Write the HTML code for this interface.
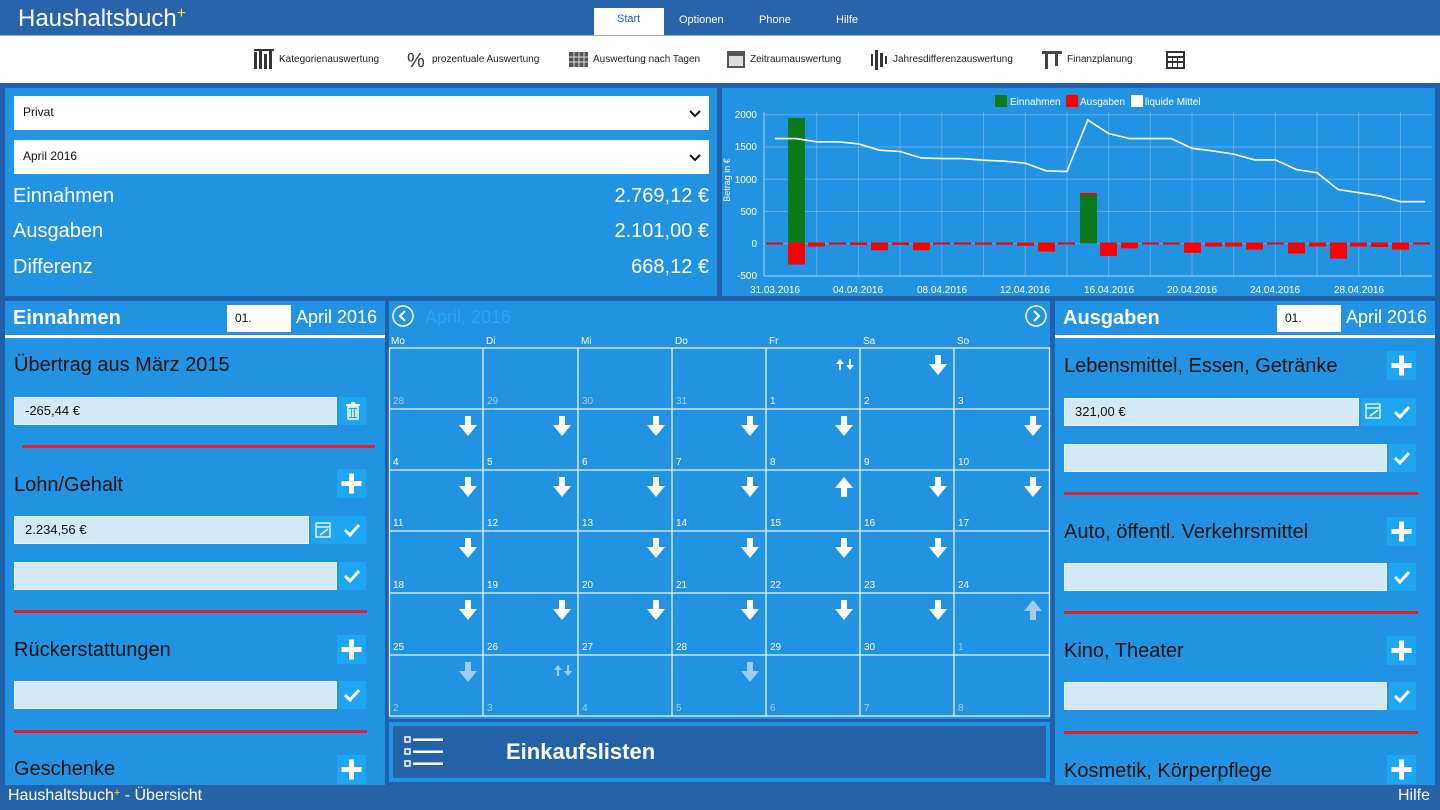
<!DOCTYPE html>
<html><head><meta charset="utf-8"><style>
*{margin:0;padding:0;box-sizing:border-box}
body{width:1440px;height:810px;overflow:hidden;background:#1f60aa;font-family:"Segoe UI","Liberation Sans",sans-serif;position:relative}
.a{position:absolute}
.hdr{left:0;top:0;width:1440px;height:35px;background:#2863ab}
.tb{left:0;top:35px;width:1440px;height:48px;background:#fff;border-top:1px solid #9ab}
.pn{background:#2293e3}
.t{position:absolute;white-space:nowrap}
.inp{position:absolute;background:#d3e9f8;border:1px solid #e6f3fc;font-size:13px;color:#111;padding-left:10px;line-height:25px}
.btn{position:absolute;background:#1fa6f2}
.red{position:absolute;height:3px;background:#e3202e}
.cat{position:absolute;font-size:20px;color:#111;white-space:nowrap;margin-top:3px}
.tbt{position:absolute;top:54px;font-size:10px;color:#222}
</style></head><body>
<div class="a hdr"></div>
<div class="t" style="left:18px;top:5px;font-size:24px;color:#fff">Haushaltsbuch<span style="color:#f5e03a;font-size:16px;vertical-align:top">+</span></div>
<div class="a" style="left:594px;top:8px;width:70px;height:28px;background:#fff"></div>
<div class="t" style="left:617px;top:13px;font-size:11px;color:#2863ab">Start</div>
<div class="t" style="left:679px;top:14px;font-size:11px;color:#fff">Optionen</div>
<div class="t" style="left:759px;top:14px;font-size:11px;color:#fff">Phone</div>
<div class="t" style="left:836px;top:14px;font-size:11px;color:#fff">Hilfe</div>
<div class="a tb"></div>
<svg class="a" style="left:0;top:35px" width="1440" height="48">
<g fill="#333"><rect x="254" y="17" width="3" height="17"/><rect x="259" y="14" width="3" height="20"/><rect x="264" y="19" width="3" height="15"/><rect x="269" y="15" width="3" height="19"/><rect x="254" y="14" width="20" height="2"/></g>
<text x="407" y="32" font-size="20" fill="#333" font-family="Liberation Sans">%</text>
<rect x="569" y="17" width="19" height="15" fill="#555"/><g stroke="#ddd" stroke-width="1"><line x1="569" y1="22" x2="588" y2="22"/><line x1="569" y1="27" x2="588" y2="27"/><line x1="574" y1="17" x2="574" y2="32"/><line x1="579" y1="17" x2="579" y2="32"/><line x1="584" y1="17" x2="584" y2="32"/></g>
<rect x="727" y="16" width="18" height="17" fill="#555"/><rect x="729" y="21" width="14" height="10" fill="#ddd"/>
<g fill="#333"><rect x="871" y="19" width="2" height="12"/><rect x="875" y="15" width="3" height="20"/><rect x="880" y="18" width="3" height="14"/><rect x="885" y="21" width="2" height="8"/></g>
<g fill="#444"><rect x="1042" y="16" width="20" height="3"/><rect x="1045" y="19" width="3" height="15"/><rect x="1055" y="19" width="3" height="12"/></g>
<rect x="1166" y="16" width="19" height="18" fill="#333"/><g fill="#fff"><rect x="1168" y="18" width="15" height="3"/><rect x="1168" y="23" width="4" height="3"/><rect x="1173" y="23" width="4" height="3"/><rect x="1178" y="23" width="5" height="3"/><rect x="1168" y="28" width="4" height="4"/><rect x="1173" y="28" width="4" height="4"/><rect x="1178" y="28" width="5" height="4"/></g>
</svg>
<div class="tbt" style="left:279px">Kategorienauswertung</div>
<div class="tbt" style="left:432px">prozentuale Auswertung</div>
<div class="tbt" style="left:593px">Auswertung nach Tagen</div>
<div class="tbt" style="left:750px">Zeitraumauswertung</div>
<div class="tbt" style="left:893px">Jahresdifferenzauswertung</div>
<div class="tbt" style="left:1067px">Finanzplanung</div>

<div class="a pn" style="left:5px;top:88px;width:712px;height:208px"></div>
<div class="a" style="left:14px;top:96px;width:695px;height:34px;background:#fff"></div>
<div class="t" style="left:23px;top:105px;font-size:12px;color:#111">Privat</div>
<div class="a" style="left:14px;top:140px;width:695px;height:34px;background:#fff"></div>
<div class="t" style="left:23px;top:149px;font-size:12px;color:#111">April 2016</div>
<svg class="a" style="left:688px;top:108px" width="14" height="60"><path d="M2 3 L7 8 L12 3" stroke="#111" stroke-width="2" fill="none"/><path d="M2 47 L7 52 L12 47" stroke="#111" stroke-width="2" fill="none"/></svg>
<div class="t" style="left:13px;top:185px;font-size:20px;color:#fff">Einnahmen</div>
<div class="t" style="left:13px;top:220px;font-size:20px;color:#fff">Ausgaben</div>
<div class="t" style="left:13px;top:256px;font-size:20px;color:#fff">Differenz</div>
<div class="t" style="right:731px;top:185px;font-size:20px;color:#fff">2.769,12 €</div>
<div class="t" style="right:731px;top:220px;font-size:20px;color:#fff">2.101,00 €</div>
<div class="t" style="right:731px;top:256px;font-size:20px;color:#fff">668,12 €</div>

<div class="a pn" style="left:722px;top:88px;width:713px;height:208px"></div>
<svg class="a" style="left:722px;top:88px" width="713" height="208" font-family="Segoe UI, Liberation Sans, sans-serif">
<g transform="translate(-722,-88)">
<g stroke="#ffffff" stroke-opacity="0.25" stroke-width="1">
<line x1="764" y1="114.8" x2="1432" y2="114.8"/><line x1="764" y1="147" x2="1432" y2="147"/><line x1="764" y1="179.2" x2="1432" y2="179.2"/><line x1="764" y1="211.4" x2="1432" y2="211.4"/><line x1="764" y1="243.6" x2="1432" y2="243.6"/>
<line x1="816.7" y1="112" x2="816.7" y2="277"/><line x1="858.4" y1="112" x2="858.4" y2="277"/><line x1="900.1" y1="112" x2="900.1" y2="277"/><line x1="941.8" y1="112" x2="941.8" y2="277"/><line x1="983.5" y1="112" x2="983.5" y2="277"/><line x1="1025.2" y1="112" x2="1025.2" y2="277"/><line x1="1066.9" y1="112" x2="1066.9" y2="277"/><line x1="1108.6" y1="112" x2="1108.6" y2="277"/><line x1="1150.3" y1="112" x2="1150.3" y2="277"/><line x1="1192" y1="112" x2="1192" y2="277"/><line x1="1233.7" y1="112" x2="1233.7" y2="277"/><line x1="1275.4" y1="112" x2="1275.4" y2="277"/><line x1="1317.1" y1="112" x2="1317.1" y2="277"/><line x1="1358.8" y1="112" x2="1358.8" y2="277"/><line x1="1400.5" y1="112" x2="1400.5" y2="277"/>
</g>
<line x1="764" y1="112" x2="764" y2="276" stroke="#fff" stroke-opacity="0.6"/>
<line x1="764" y1="276" x2="1432" y2="276" stroke="#fff" stroke-opacity="0.6"/>
<g font-size="10" fill="#fff" text-anchor="end">
<text x="757" y="118">2000</text><text x="757" y="150">1500</text><text x="757" y="183">1000</text><text x="757" y="215">500</text><text x="757" y="247">0</text><text x="757" y="279">-500</text></g>
<text transform="translate(730,180) rotate(-90)" font-size="9" fill="#fff" text-anchor="middle">Betrag in €</text>
<g font-size="10" fill="#fff" text-anchor="middle">
<text x="775" y="293">31.03.2016</text><text x="858" y="293">04.04.2016</text><text x="942" y="293">08.04.2016</text><text x="1025" y="293">12.04.2016</text><text x="1109" y="293">16.04.2016</text><text x="1192" y="293">20.04.2016</text><text x="1275" y="293">24.04.2016</text><text x="1359" y="293">28.04.2016</text></g>
<rect x="995" y="95" width="12" height="12" fill="#0a7a1a"/><text x="1010" y="105" font-size="10" fill="#fff">Einnahmen</text>
<rect x="1066" y="95" width="12" height="12" fill="#f00"/><text x="1080" y="105" font-size="10" fill="#fff">Ausgaben</text>
<rect x="1131" y="95" width="12" height="12" fill="#fff"/><text x="1145" y="105" font-size="10" fill="#fff">liquide Mittel</text>
<rect x="788" y="118" width="17" height="125.6" fill="#0a7a1a"/>
<rect x="1080" y="193.4" width="17" height="50.2" fill="#0a7a1a"/><rect x="1080" y="193" width="17" height="2" fill="#f00"/>
<g fill="#f00">
<rect x="766" y="242.5" width="17" height="2"/>
<rect x="788" y="242.5" width="17" height="22"/>
<rect x="808" y="242.5" width="17" height="4"/>
<rect x="829" y="242.5" width="17" height="2"/>
<rect x="850" y="242.5" width="17" height="2.5"/>
<rect x="871" y="242.5" width="17" height="7.7"/>
<rect x="892" y="242.5" width="17" height="2.5"/>
<rect x="913" y="242.5" width="17" height="7.7"/>
<rect x="933" y="242.5" width="17" height="2"/>
<rect x="954" y="242.5" width="17" height="2"/>
<rect x="975" y="242.5" width="17" height="2.2"/>
<rect x="996" y="242.5" width="17" height="2.2"/>
<rect x="1017" y="242.5" width="17" height="3.3"/>
<rect x="1038" y="242.5" width="17" height="9"/>
<rect x="1058" y="242.5" width="17" height="2"/>
<rect x="1100" y="242.5" width="17" height="13.5"/>
<rect x="1121" y="242.5" width="17" height="5.8"/>
<rect x="1142" y="242.5" width="17" height="2"/>
<rect x="1163" y="242.5" width="17" height="2"/>
<rect x="1184" y="242.5" width="17" height="10.3"/>
<rect x="1205" y="242.5" width="17" height="4"/>
<rect x="1225" y="242.5" width="17" height="4"/>
<rect x="1246" y="242.5" width="17" height="7.1"/>
<rect x="1267" y="242.5" width="17" height="2"/>
<rect x="1288" y="242.5" width="17" height="11"/>
<rect x="1309" y="242.5" width="17" height="4"/>
<rect x="1330" y="242.5" width="17" height="16.1"/>
<rect x="1350" y="242.5" width="17" height="4"/>
<rect x="1371" y="242.5" width="17" height="4.5"/>
<rect x="1392" y="242.5" width="17" height="7.1"/>
<rect x="1413" y="242.5" width="17" height="2"/>
</g>
<polyline fill="none" stroke="#fff" stroke-width="1.6" points="775,138.6 795.9,138.6 816.7,141.8 837.6,141.8 858.4,143.8 879.3,150.2 900.1,151.5 921,157.9 941.8,158.6 962.7,158.6 983.5,160.2 1004.4,161.2 1025.2,163.1 1046.1,170.8 1066.9,171.5 1087.8,120 1108.6,133.5 1129.5,138.6 1150.3,138.6 1171.2,138.6 1192,148.3 1212.9,150.9 1233.7,154.1 1254.6,159.9 1275.4,159.9 1296.3,169.5 1317.1,172.8 1338,189.5 1358.8,192.7 1379.7,195.9 1400.5,201.7 1425,201.7"/>
</g></svg>

<div class="a pn" style="left:5px;top:301px;width:380px;height:484px"></div>
<div class="t" style="left:13px;top:307px;font-size:20px;color:#fff;font-weight:bold">Einnahmen</div>
<div class="a" style="left:227px;top:305px;width:64px;height:27px;background:#fff"></div>
<div class="t" style="left:235px;top:311px;font-size:12px;color:#111">01.</div>
<div class="t" style="left:296px;top:307px;font-size:18px;color:#fff">April 2016</div>
<div class="a" style="left:5px;top:335px;width:380px;height:3px;background:#fff"></div>
<div class="cat" style="left:14px;top:351px">Übertrag aus März 2015</div>
<div class="inp" style="left:14px;top:397px;width:323px;height:28px">-265,44 €</div>
<div class="btn" style="left:339px;top:397px;width:27px;height:28px"></div>
<svg class="a" style="left:346px;top:402px" width="14" height="18"><rect x="0" y="2" width="14" height="2" fill="#fff"/><rect x="5" y="0" width="4" height="2" fill="#fff"/><path d="M2 5 H12 V17 H2 Z M4 7 V15 M7 7 V15 M10 7 V15" stroke="#fff" stroke-width="1.5" fill="none"/></svg>
<div class="red" style="left:22px;top:445px;width:353px"></div>
<div class="cat" style="left:14px;top:471px">Lohn/Gehalt</div>
<div class="btn" style="left:337px;top:469px;width:29px;height:29px"></div>
<div class="inp" style="left:14px;top:516px;width:295px;height:28px">2.234,56 €</div>
<div class="btn" style="left:311px;top:516px;width:55px;height:28px"></div>
<div class="inp" style="left:14px;top:562px;width:323px;height:28px"></div>
<div class="btn" style="left:339px;top:562px;width:27px;height:28px"></div>
<div class="red" style="left:14px;top:610px;width:353px"></div>
<div class="cat" style="left:14px;top:636px">Rückerstattungen</div>
<div class="btn" style="left:337px;top:635px;width:29px;height:29px"></div>
<div class="inp" style="left:14px;top:681px;width:323px;height:28px"></div>
<div class="btn" style="left:339px;top:681px;width:27px;height:28px"></div>
<div class="red" style="left:14px;top:730px;width:353px"></div>
<div class="cat" style="left:14px;top:755px">Geschenke</div>
<div class="btn" style="left:337px;top:755px;width:29px;height:29px"></div>

<div class="a pn" style="left:1055px;top:301px;width:380px;height:484px"></div>
<div class="t" style="left:1063px;top:307px;font-size:20px;color:#fff;font-weight:bold">Ausgaben</div>
<div class="a" style="left:1277px;top:305px;width:64px;height:27px;background:#fff"></div>
<div class="t" style="left:1285px;top:311px;font-size:12px;color:#111">01.</div>
<div class="t" style="left:1346px;top:307px;font-size:18px;color:#fff">April 2016</div>
<div class="a" style="left:1055px;top:335px;width:380px;height:3px;background:#fff"></div>
<div class="cat" style="left:1064px;top:352px">Lebensmittel, Essen, Getränke</div>
<div class="btn" style="left:1387px;top:351px;width:29px;height:29px"></div>
<div class="inp" style="left:1064px;top:398px;width:295px;height:28px">321,00 €</div>
<div class="btn" style="left:1361px;top:398px;width:55px;height:28px"></div>
<div class="inp" style="left:1064px;top:444px;width:323px;height:28px"></div>
<div class="btn" style="left:1389px;top:444px;width:27px;height:28px"></div>
<div class="red" style="left:1064px;top:492px;width:354px"></div>
<div class="cat" style="left:1064px;top:518px">Auto, öffentl. Verkehrsmittel</div>
<div class="btn" style="left:1387px;top:517px;width:29px;height:29px"></div>
<div class="inp" style="left:1064px;top:563px;width:323px;height:28px"></div>
<div class="btn" style="left:1389px;top:563px;width:27px;height:28px"></div>
<div class="red" style="left:1064px;top:611px;width:354px"></div>
<div class="cat" style="left:1064px;top:637px">Kino, Theater</div>
<div class="btn" style="left:1387px;top:636px;width:29px;height:29px"></div>
<div class="inp" style="left:1064px;top:682px;width:323px;height:28px"></div>
<div class="btn" style="left:1389px;top:682px;width:27px;height:28px"></div>
<div class="red" style="left:1064px;top:731px;width:354px"></div>
<div class="cat" style="left:1064px;top:757px">Kosmetik, Körperpflege</div>
<div class="btn" style="left:1387px;top:755px;width:29px;height:29px"></div>

<svg class="a" style="left:0;top:0" width="1440" height="810">
<defs>
<g id="pl"><rect x="-2.5" y="-10" width="5" height="20" fill="#fff"/><rect x="-10" y="-2.5" width="20" height="5" fill="#fff"/></g>
<path id="ck" d="M-7 0 L-2 5 L7 -5" stroke="#fff" stroke-width="3" fill="none"/>
<g id="ed"><rect x="-7" y="-7" width="14" height="14" fill="none" stroke="#fff" stroke-width="1.3"/><line x1="-7" y1="-3" x2="7" y2="-3" stroke="#fff" stroke-width="1.3"/><line x1="-3" y1="5" x2="5" y2="-1" stroke="#fff" stroke-width="1.5"/></g>
</defs>
<use href="#pl" x="351.5" y="483.5"/><use href="#pl" x="351.5" y="649.5"/><use href="#pl" x="351.5" y="769.5"/>
<use href="#pl" x="1401.5" y="365.5"/><use href="#pl" x="1401.5" y="531.5"/><use href="#pl" x="1401.5" y="650.5"/><use href="#pl" x="1401.5" y="769.5"/>
<use href="#ck" x="352" y="530"/><use href="#ck" x="352" y="576"/><use href="#ck" x="352" y="695"/>
<use href="#ck" x="1402" y="412"/><use href="#ck" x="1402" y="458"/><use href="#ck" x="1402" y="577"/><use href="#ck" x="1402" y="696"/>
<use href="#ed" x="323" y="530"/><use href="#ed" x="1373" y="411"/>
</svg>

<div class="a pn" style="left:389px;top:301px;width:661px;height:418px"></div>
<svg class="a" style="left:0;top:0" width="1440" height="810" font-family="Segoe UI, Liberation Sans, sans-serif">
<defs>
<g id="dn2"><rect x="-3" y="-10" width="6" height="12" fill="#fff"/><path d="M-9 -1 L9 -1 L0 10 Z" fill="#fff"/></g>
<g id="up2"><rect x="-3" y="-2" width="6" height="12" fill="#fff"/><path d="M-9 1 L9 1 L0 -10 Z" fill="#fff"/></g>
<g id="ud"><rect x="-6" y="-2" width="2" height="7" fill="#fff"/><path d="M-9 -1 L-1 -1 L-5 -6 Z" fill="#fff"/><rect x="4" y="-6" width="2" height="7" fill="#fff"/><path d="M1 0 L9 0 L5 5 Z" fill="#fff"/></g>
</defs>
<circle cx="403" cy="316" r="10" fill="none" stroke="#fff" stroke-width="1.5"/><path d="M405 311 L400 316 L405 321" stroke="#fff" stroke-width="2" fill="none"/>
<circle cx="1036" cy="316" r="10" fill="none" stroke="#fff" stroke-width="1.5"/><path d="M1034 311 L1039 316 L1034 321" stroke="#fff" stroke-width="2" fill="none"/>
<text x="425" y="323" font-size="18" fill="#2aa6f5">April, 2016</text>
<g font-size="10" fill="#fff"><text x="391" y="344">Mo</text><text x="486" y="344">Di</text><text x="581" y="344">Mi</text><text x="675" y="344">Do</text><text x="769" y="344">Fr</text><text x="863" y="344">Sa</text><text x="957" y="344">So</text></g>
<g stroke="#e8f4fd" stroke-width="1.3" fill="none">
<rect x="389.5" y="348" width="660" height="368"/>
<line x1="483" y1="348" x2="483" y2="716"/><line x1="578" y1="348" x2="578" y2="716"/><line x1="672" y1="348" x2="672" y2="716"/><line x1="766" y1="348" x2="766" y2="716"/><line x1="860" y1="348" x2="860" y2="716"/><line x1="954" y1="348" x2="954" y2="716"/>
<line x1="389" y1="409" x2="1050" y2="409"/><line x1="389" y1="470" x2="1050" y2="470"/><line x1="389" y1="531" x2="1050" y2="531"/><line x1="389" y1="593" x2="1050" y2="593"/><line x1="389" y1="655" x2="1050" y2="655"/>
</g>
<g font-size="10" fill="#fff">
<g fill-opacity="0.55"><text x="393" y="404">28</text><text x="487" y="404">29</text><text x="582" y="404">30</text><text x="676" y="404">31</text></g>
<text x="770" y="404">1</text><text x="864" y="404">2</text><text x="958" y="404">3</text>
<text x="393" y="465">4</text><text x="487" y="465">5</text><text x="582" y="465">6</text><text x="676" y="465">7</text><text x="770" y="465">8</text><text x="864" y="465">9</text><text x="958" y="465">10</text>
<text x="393" y="526">11</text><text x="487" y="526">12</text><text x="582" y="526">13</text><text x="676" y="526">14</text><text x="770" y="526">15</text><text x="864" y="526">16</text><text x="958" y="526">17</text>
<text x="393" y="588">18</text><text x="487" y="588">19</text><text x="582" y="588">20</text><text x="676" y="588">21</text><text x="770" y="588">22</text><text x="864" y="588">23</text><text x="958" y="588">24</text>
<text x="393" y="650">25</text><text x="487" y="650">26</text><text x="582" y="650">27</text><text x="676" y="650">28</text><text x="770" y="650">29</text><text x="864" y="650">30</text><text x="958" y="650" fill-opacity="0.55">1</text>
<g fill-opacity="0.55"><text x="393" y="711">2</text><text x="487" y="711">3</text><text x="582" y="711">4</text><text x="676" y="711">5</text><text x="770" y="711">6</text><text x="864" y="711">7</text><text x="958" y="711">8</text></g>
</g>
<use href="#ud" x="845" y="365"/><use href="#dn2" x="938" y="365"/>
<use href="#dn2" x="468" y="426"/><use href="#dn2" x="562" y="426"/><use href="#dn2" x="656" y="426"/><use href="#dn2" x="750" y="426"/><use href="#dn2" x="844" y="426"/><use href="#dn2" x="1033" y="426"/>
<use href="#dn2" x="468" y="487"/><use href="#dn2" x="562" y="487"/><use href="#dn2" x="656" y="487"/><use href="#dn2" x="750" y="487"/><use href="#up2" x="844" y="487"/><use href="#dn2" x="938" y="487"/><use href="#dn2" x="1033" y="487"/>
<use href="#dn2" x="468" y="548"/><use href="#dn2" x="656" y="548"/><use href="#dn2" x="750" y="548"/><use href="#dn2" x="844" y="548"/><use href="#dn2" x="938" y="548"/>
<use href="#dn2" x="468" y="610"/><use href="#dn2" x="562" y="610"/><use href="#dn2" x="656" y="610"/><use href="#dn2" x="750" y="610"/><use href="#dn2" x="844" y="610"/><use href="#dn2" x="938" y="610"/>
<g opacity="0.55"><use href="#up2" x="1033" y="610"/><use href="#dn2" x="468" y="672"/><use href="#ud" x="563" y="671"/><use href="#dn2" x="750" y="672"/></g>
</svg>

<div class="a" style="left:389px;top:722px;width:661px;height:60px;background:#2293e3"></div>
<div class="a" style="left:393px;top:726px;width:653px;height:52px;background:#2462a8"></div>
<svg class="a" style="left:403px;top:735px" width="45" height="36"><g fill="none" stroke="#fff" stroke-width="1.5"><rect x="2" y="2" width="5" height="5"/><rect x="2" y="14" width="5" height="5"/><rect x="2" y="26" width="5" height="5"/></g><g fill="#fff"><rect x="10" y="3.5" width="30" height="2.5"/><rect x="10" y="15.5" width="30" height="2.5"/><rect x="10" y="27.5" width="30" height="2.5"/></g></svg>
<div class="t" style="left:506px;top:739px;font-size:22px;color:#fff;font-weight:600">Einkaufslisten</div>

<div class="a" style="left:0;top:785px;width:1440px;height:25px;background:#2562a8"></div>
<div class="t" style="left:8px;top:787px;font-size:16px;color:#fff">Haushaltsbuch<span style="color:#f5e03a;font-size:11px;vertical-align:top">+</span> - Übersicht</div>
<div class="t" style="right:10px;top:787px;font-size:16px;color:#fff">Hilfe</div>
</body></html>
